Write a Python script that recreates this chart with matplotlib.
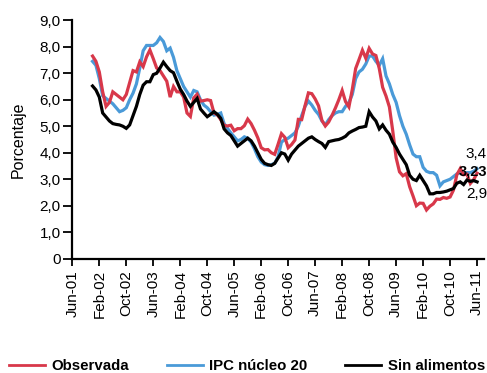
import matplotlib
matplotlib.use("Agg")
import matplotlib.pyplot as plt
from matplotlib.lines import Line2D
from matplotlib.ticker import FuncFormatter

plt.rcParams['font.family'] = ['Liberation Sans', 'DejaVu Sans']

# meses contados desde Jun-01 (0) hasta Jun-11 (120); las series empiezan en Dic-01
meses = list(range(6, 121))

observada = [
    7.65, 7.45, 7.05, 6.30, 5.75, 5.90, 6.30, 6.20, 6.10, 6.00, 6.20, 6.65,   # dic-01 .. nov-02
    7.10, 7.05, 7.43, 7.25, 7.62, 7.88, 7.55, 7.20, 7.10, 6.90, 6.70, 6.10,   # dic-02 .. nov-03
    6.50, 6.30, 6.30, 6.10, 5.50, 5.37, 6.07, 6.21, 5.95, 5.97, 6.00, 5.97,   # dic-03 .. nov-04
    5.50, 5.43, 5.25, 5.03, 5.01, 5.04, 4.83, 4.91, 4.91, 5.02, 5.27, 5.10,   # dic-04 .. nov-05
    4.85, 4.56, 4.19, 4.11, 4.12, 4.00, 3.94, 4.32, 4.72, 4.58, 4.19, 4.31,   # dic-05 .. nov-06
    4.48, 5.26, 5.25, 5.78, 6.26, 6.23, 6.03, 5.77, 5.22, 5.01, 5.16, 5.41,   # dic-06 .. nov-07
    5.69, 6.00, 6.35, 5.93, 5.73, 6.39, 7.18, 7.52, 7.87, 7.57, 7.94, 7.73,   # dic-07 .. nov-08
    7.67, 7.18, 6.47, 6.14, 5.73, 4.82, 3.81, 3.28, 3.13, 3.21, 2.72, 2.37,   # dic-08 .. nov-09
    2.00, 2.10, 2.09, 1.84, 1.98, 2.07, 2.25, 2.24, 2.31, 2.28, 2.33, 2.59,   # dic-09 .. nov-10
    3.17, 3.40, 3.17, 3.19, 2.84, 2.99, 3.23,                                 # dic-10 .. jun-11
]

nucleo20 = [
    7.45, 7.30, 6.80, 6.15, 6.05, 5.95, 5.85, 5.70, 5.55, 5.60, 5.70, 6.00,
    6.25, 6.60, 7.20, 7.85, 8.05, 8.05, 8.05, 8.15, 8.35, 8.20, 7.85, 7.95,
    7.60, 7.10, 6.80, 6.50, 6.30, 6.10, 6.35, 6.30, 6.00, 5.80, 5.70, 5.55,
    5.42, 5.45, 5.50, 5.10, 4.92, 4.75, 4.60, 4.45, 4.50, 4.60, 4.55, 4.40,
    4.15, 3.85, 3.65, 3.55, 3.52, 3.55, 3.60, 3.85, 4.40, 4.50, 4.55, 4.65,
    4.75, 5.00, 5.40, 5.75, 5.95, 5.80, 5.60, 5.45, 5.20, 5.05, 5.25, 5.40,
    5.50, 5.55, 5.55, 5.75, 5.90, 6.20, 6.80, 7.05, 7.15, 7.35, 7.65, 7.65,
    7.45, 7.30, 7.55, 6.90, 6.60, 6.20, 5.90, 5.40, 5.00, 4.70, 4.30, 3.95,
    3.85, 3.85, 3.45, 3.30, 3.25, 3.25, 3.15, 2.75, 2.90, 2.95, 3.00, 3.10,
    3.20, 3.25, 3.20, 3.25, 3.25, 3.30, 3.40,
]

sin_alimentos = [
    6.52, 6.37, 6.10, 5.50, 5.35, 5.20, 5.10, 5.07, 5.05, 5.00, 4.92, 5.05,
    5.40, 5.75, 6.20, 6.55, 6.68, 6.68, 6.95, 7.00, 7.20, 7.42, 7.25, 7.10,
    7.02, 6.70, 6.40, 6.20, 5.95, 5.75, 5.90, 6.05, 5.65, 5.50, 5.36, 5.45,
    5.55, 5.45, 5.30, 4.90, 4.75, 4.65, 4.45, 4.25, 4.35, 4.45, 4.55, 4.45,
    4.25, 4.00, 3.75, 3.60, 3.55, 3.52, 3.60, 3.80, 4.00, 3.95, 3.72, 3.95,
    4.10, 4.25, 4.35, 4.45, 4.55, 4.60, 4.50, 4.42, 4.35, 4.20, 4.42, 4.45,
    4.48, 4.50, 4.55, 4.62, 4.75, 4.82, 4.88, 4.95, 4.97, 5.00, 5.55, 5.35,
    5.20, 4.90, 5.05, 4.85, 4.70, 4.40, 4.20, 3.95, 3.75, 3.55, 3.15, 3.00,
    2.95, 3.15, 2.95, 2.75, 2.45, 2.45, 2.50, 2.50, 2.52, 2.55, 2.60, 2.65,
    2.85, 2.90, 2.80, 2.97, 2.92, 2.95, 2.90,
]

tick_pos = list(range(0, 121, 8))
tick_labels = ['Jun-01', 'Feb-02', 'Oct-02', 'Jun-03', 'Feb-04', 'Oct-04', 'Jun-05', 'Feb-06',
               'Oct-06', 'Jun-07', 'Feb-08', 'Oct-08', 'Jun-09', 'Feb-10', 'Oct-10', 'Jun-11']

ROJO = '#d8384a'
AZUL = '#4a9ad8'
NEGRO = '#000000'

fig = plt.figure(figsize=(4.87, 3.73), dpi=100)
ax = fig.add_axes([0.1485, 0.3064, 0.845, 0.6392])

ax.plot(meses, nucleo20, color=AZUL, lw=2.3, solid_joinstyle='miter')
ax.plot(meses, observada, color=ROJO, lw=2.3, solid_joinstyle='miter')
ax.plot(meses, sin_alimentos, color=NEGRO, lw=2.3, solid_joinstyle='miter')

ax.set_xlim(0, 122)
ax.set_ylim(0, 9)
ax.set_yticks(range(0, 10))
ax.yaxis.set_major_formatter(FuncFormatter(lambda v, p: '0' if v == 0 else f'{v:.1f}'.replace('.', ',')))
ax.set_xticks(tick_pos)
ax.set_xticklabels(tick_labels, rotation=90)
ax.tick_params(axis='both', labelsize=11, width=1.3, color='black', direction='out')
ax.tick_params(axis='y', length=6.5, pad=2)
ax.tick_params(axis='x', length=5, pad=3)
ax.set_ylabel('Porcentaje', fontsize=11.5, labelpad=10)

for lado in ['top', 'right']:
    ax.spines[lado].set_visible(False)
for lado in ['left', 'bottom']:
    ax.spines[lado].set_linewidth(1.6)

# etiquetas del último dato
ax.annotate('3,4', xy=(meses[-1], nucleo20[-1]), xytext=(-1, 10.5), textcoords='offset points',
            ha='center', va='center', fontsize=11)
ax.annotate('3,23', xy=(meses[-1], observada[-1]), xytext=(-3, 1), textcoords='offset points',
            ha='center', va='center', fontsize=10.5, fontweight='bold')
ax.annotate('2,9', xy=(meses[-1], sin_alimentos[-1]), xytext=(0, -8.5), textcoords='offset points',
            ha='center', va='center', fontsize=11)

handles = [Line2D([], [], color=ROJO, lw=2),
           Line2D([], [], color=AZUL, lw=2),
           Line2D([], [], color=NEGRO, lw=2)]
fig.legend(handles, ['Observada', 'IPC núcleo 20', 'Sin alimentos'], ncol=3,
           loc='center', bbox_to_anchor=(0.507, 0.019), frameon=False,
           prop={'size': 10.8, 'weight': 'bold'}, handlelength=2.4, handletextpad=0.45,
           columnspacing=2.5, borderpad=0.1, borderaxespad=0.1)

fig.savefig('out.png', dpi=100)
